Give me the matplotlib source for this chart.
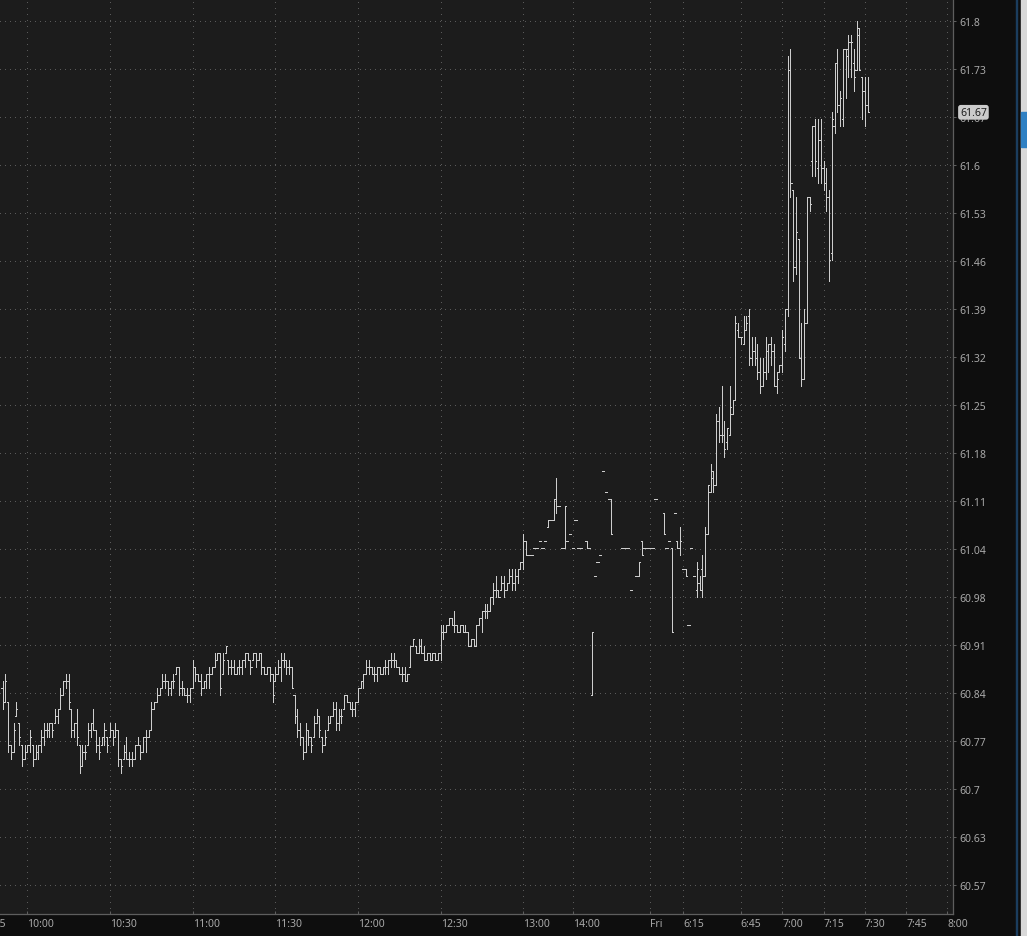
import numpy as np
import matplotlib
matplotlib.use("Agg")
import matplotlib.pyplot as plt
from matplotlib.collections import LineCollection
from matplotlib.patches import Rectangle
from matplotlib.transforms import blended_transform_factory

plt.rcParams['font.family'] = ['Noto Sans', 'DejaVu Sans']
plt.rcParams['lines.scale_dashes'] = False

# 1-minute OHLC bars, cents above 60.00 (None = no trade in that slot)
# regular session 9:51 .. 12:59
reg_open = [85,83,83,77,76,81,80,77,75,76, 77,77,75,76,77,78,79,79,80,80,
            81,82,84,86,86,82,79,80,77,74, 76,77,79,80,79,77,77,78,78,78,
            79,78,79,75,75,76,75,75,75,77, 77,76,78,78,79,82,83,84,85,86,
            86,85,86,87,88,85,85,84,84,85, 88,87,86,85,86,87,87,88,89,90,
            87,90,89,88,88,87,88,88,89,90, 89,89,90,89,90,88,87,88,87,86,
            87,88,89,89,88,88,84,81,79,78, 76,79,78,78,80,81,78,77,79,80,
            81,82,80,81,82,84,83,82,82,83, 85,86,87,88,88,87,87,88,87,88,
            88,89,89,89,88,87,87,86,88,91, 91,90,91,90,89,90,89,90,89,90,
            93,93,94,95,94,94,93,94,93,93, 91,92,91,94,95,96,96,96,98,99,
            99,99,100,99,100,101,100,101,102]
reg_high = [86,87,83,77,80,83,80,77,77,77, 79,77,77,77,79,80,80,80,80,82,
            82,85,86,87,87,82,80,82,77,77, 77,80,80,82,79,78,78,80,78,80,
            79,80,79,75,77,78,76,76,77,78, 77,78,79,79,83,83,85,85,87,87,
            86,86,87,88,88,86,85,85,85,89, 88,87,87,86,87,88,88,90,90,90,
            90,91,89,89,89,88,89,89,90,90, 89,90,90,90,90,88,88,88,87,88,
            89,90,90,89,89,88,84,82,80,78, 80,79,78,81,82,81,78,79,81,81,
            83,83,82,82,84,84,83,83,83,85, 86,87,89,89,88,88,88,88,88,89,
            89,90,90,89,88,88,88,87,91,92, 91,92,92,91,90,90,90,90,90,94,
            94,94,95,95,96,94,94,94,94,93, 92,92,94,95,96,97,97,98,100,101,
            99,101,101,100,102,102,102,102,103]
reg_low = [82,83,76,75,76,81,77,74,75,76, 76,74,75,75,76,77,78,78,78,80,
           80,82,84,85,82,78,78,77,73,74, 75,77,78,79,76,75,77,77,76,78,
           77,78,74,73,75,75,74,74,75,77, 75,76,76,78,79,82,83,84,85,85,
           84,84,85,87,84,84,84,83,83,85, 86,86,84,85,85,85,87,88,89,84,
           87,90,87,87,87,87,87,87,88,89, 87,89,88,89,87,87,87,86,83,86,
           87,86,88,87,87,85,80,78,77,75, 76,77,76,78,80,78,76,77,79,80,
           81,79,79,80,82,83,82,81,81,83, 85,85,87,87,87,86,86,87,87,87,
           87,88,88,88,87,86,86,86,88,91, 90,90,90,89,89,89,89,89,89,89,
           92,93,94,94,93,93,93,93,93,91, 91,91,91,94,93,95,95,96,97,98,
           98,99,98,99,100,99,99,100,102]
reg_close = [83,86,77,76,79,82,78,75,76,77, 78,75,76,77,78,79,79,80,79,81,
             82,84,86,86,83,79,80,78,74,76, 76,79,80,79,77,76,78,79,77,79,
             78,79,75,74,76,75,75,75,77,77, 76,78,78,79,82,83,84,85,86,86,
             85,86,86,88,85,85,84,84,85,88, 87,86,85,86,87,87,88,89,90,85,
             89,91,88,88,87,88,88,89,90,89, 88,90,89,90,88,87,88,87,84,87,
             88,89,89,88,88,85,81,79,78,76, 79,78,77,80,81,79,77,78,80,81,
             82,80,81,81,84,83,82,82,83,85, 86,87,88,88,87,87,88,87,88,88,
             89,89,89,88,87,87,86,87,91,92, 90,91,90,89,90,89,90,89,90,93,
             93,94,95,94,94,93,94,93,93,91, 92,91,94,95,96,96,96,98,99,99,
             98,100,99,100,101,100,101,102,103]

# after hours from 13:00, then Friday pre-market up to 7:31
ext_open = [103,106,104,104,105,105,106,105,106,108, 109,109,112,111,105,105,106,107,105,109,
            105,105,None,106,105,84,101,103,104,116, 113,112,112,None,None,None,105,105,105,99,
            None,101,101,106,105,105,105,105,112,None, None,110,105,106,105,110,106,105,102,102,
            94,105,101,99,100,102,101,107,113,115, 114,123,121,121,120,121,124,126,136,135,
            134,136,138,132,133,132,130,128,130,133, 134,133,128,130,131,134,139,173,156,145,
            149,132,129,137,155,160,165,159,163,159, 157,155,147,165,174,168,166,176,176,177,
            174,173,179,172,170,168]
ext_high = [107,106,104,104,105,105,106,105,106,109, 109,112,115,111,105,111,106,107,105,109,
            105,105,None,106,105,93,101,103,104,116, 113,112,112,None,None,None,105,105,105,99,
            None,101,103,106,105,105,105,105,112,None, None,110,105,106,105,110,106,108,102,102,
            94,105,101,103,101,104,108,114,117,116, 124,125,128,123,122,128,126,138,137,135,
            138,138,139,135,135,134,132,132,135,134, 135,134,130,131,136,139,175,176,156,155,
            149,137,139,155,155,165,166,166,166,160, 159,156,167,174,176,170,176,176,178,178,
            176,180,179,172,172,172]
ext_low = [102,104,104,104,105,105,106,105,106,108, 109,109,110,111,105,105,106,107,105,109,
           105,105,None,105,105,84,101,103,104,116, 113,112,107,None,None,None,105,105,105,99,
           None,101,101,104,105,105,105,105,112,None, None,107,105,106,93,110,105,104,102,101,
           94,105,101,98,99,98,101,107,113,113, 114,120,120,118,119,121,124,126,135,134,
           134,136,131,131,131,129,127,128,129,130, 131,128,127,130,130,133,138,155,143,144,
           132,128,129,137,153,158,158,157,157,156, 153,143,146,164,167,165,165,169,172,172,
           170,173,173,166,165,167]
ext_close = [106,104,104,104,105,105,106,105,106,109, 109,112,111,111,105,111,106,107,105,109,
             105,105,None,105,105,93,101,103,104,116, 113,112,107,None,None,None,105,105,105,99,
             None,101,103,104,105,105,105,105,112,None, None,107,105,106,93,110,105,106,102,101,
             94,105,101,102,99,101,107,114,116,114, 123,121,121,119,122,125,126,137,135,135,
             136,137,132,133,132,130,128,130,133,134, 133,128,129,131,135,139,173,157,145,150,
             132,129,137,155,154,165,160,163,159,157, 155,146,166,174,168,169,176,175,177,177,
             172,178,173,170,168,167]

# time axis labels and the bar slot they sit on
time_labels = ["9:45", "10:00", "10:30", "11:00", "11:30", "12:00", "12:30", "13:00",
               "14:00", "Fri", "6:15", "6:45", "7:00", "7:15", "7:30", "7:45", "8:00"]
label_slots = [-6, 9, 39, 69, 99, 129, 159, 189, 207, 235, 247, 268, 283, 298, 313, 328, 343]

price_labels = ["60.57", "60.63", "60.7", "60.77", "60.84", "60.91", "60.98", "61.04", "61.11",
                "61.18", "61.25", "61.32", "61.39", "61.46", "61.53", "61.6", "61.67", "61.73", "61.8"]


def to_price(vals):
    return np.array([np.nan if v is None else 60 + v / 100 for v in vals])


o = to_price(reg_open + ext_open)
h = to_price(reg_high + ext_high)
l = to_price(reg_low + ext_low)
c = to_price(reg_close + ext_close)
x = np.arange(len(o))

bg = '#1c1c1c'
panel = '#0e0e0e'
txt = '#a8a8a8'
axcol = '#5e5e5e'

fig = plt.figure(figsize=(10.27, 9.37), dpi=100, facecolor=panel)
ax = fig.add_axes([0, 22 / 937, 953 / 1027, 915 / 937])
ax.set_facecolor(bg)

w = 0.4
segs = []
for i in x:
    if np.isnan(h[i]):
        continue
    segs.append([(i, l[i]), (i, h[i])])
    segs.append([(i - w, o[i]), (i, o[i])])
    segs.append([(i, c[i]), (i + w, c[i])])
ax.add_collection(LineCollection(segs, colors='#cdcdcd', linewidths=0.5, antialiaseds=False, zorder=3))

ax.set_xlim(-0.91, 345.0)
ax.set_ylim(60.5287, 61.8313)

yt = np.linspace(float(price_labels[0]), float(price_labels[-1]), len(price_labels))
ax.yaxis.tick_right()
ax.set_yticks(yt)
ax.set_yticklabels(price_labels)
ax.set_xticks(label_slots[1:])
ax.set_xticklabels(time_labels[1:])
for lab in ax.get_xticklabels():
    lab.set_horizontalalignment('left')

ax.tick_params(axis='y', direction='out', length=2.5, width=0.75, color=axcol,
               labelcolor=txt, labelsize=7.5, pad=2)
ax.tick_params(axis='x', direction='in', length=2.5, width=0.75, color=axcol,
               labelcolor=txt, labelsize=7.5, pad=3)

ax.grid(axis='y', color='#5a5a5a', linestyle=(0, (0.72, 2.9)), linewidth=0.5, antialiased=False)
ax.grid(axis='x', color='#5a5a5a', linestyle=(0, (0.72, 3.6)), linewidth=0.5, antialiased=False)
ax.set_axisbelow(True)

for side in ['left', 'top']:
    ax.spines[side].set_visible(False)
for side in ['bottom', 'right']:
    ax.spines[side].set_color(axcol)
    ax.spines[side].set_linewidth(0.9)

# first label is cut by the left edge
ax.text(label_slots[0], -4.2 / 915, time_labels[0], transform=blended_transform_factory(ax.transData, ax.transAxes),
        ha='left', va='top', fontsize=7.5, color=txt, clip_on=False)

# last price tag
last = c[~np.isnan(c)][-1]
ax.text(1 + 7 / 953, last, f"{last:.2f}", transform=blended_transform_factory(ax.transAxes, ax.transData),
        ha='left', va='center', fontsize=7.5, color='#1e1e1e', clip_on=False, zorder=10,
        bbox=dict(boxstyle='round,pad=0.18,rounding_size=0.25', fc='#cbcbcb', ec='none'))

# right window edge
fig.patches.append(Rectangle((1016 / 1027, 0), 1.2 / 1027, 1, transform=fig.transFigure, color='#1b3d5e'))
fig.patches.append(Rectangle((1021 / 1027, 0), 6 / 1027, 1, transform=fig.transFigure, color='#d9d9d9'))
fig.patches.append(Rectangle((1021 / 1027, (937 - 148) / 937), 6 / 1027, 35 / 937,
                             transform=fig.transFigure, color='#2f80c3'))

fig.savefig('out.png', dpi=100, facecolor=panel)
